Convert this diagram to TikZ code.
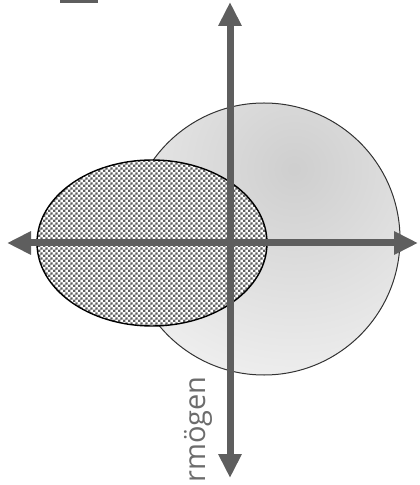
\documentclass[tikz,border=0pt]{standalone}
\usepackage{fontspec}
\setsansfont{Open Sans}
\usetikzlibrary{arrows.meta,shapes.geometric,patterns}

\definecolor{axisgray}{HTML}{5E5E5E}
\pgfdeclarepatternformonly{chequer}{\pgfpointorigin}{\pgfpoint{2.4pt}{2.4pt}}{\pgfpoint{2.4pt}{2.4pt}}{%
  \pgfpathrectangle{\pgfpointorigin}{\pgfpoint{1.2pt}{1.2pt}}%
  \pgfpathrectangle{\pgfpoint{1.2pt}{1.2pt}}{\pgfpoint{1.2pt}{1.2pt}}%
  \pgfusepath{fill}}

\begin{document}
\begin{tikzpicture}[x=0.5pt, y=-0.5pt, font=\sffamily,
  axis/.style={line width=3.5pt, draw=axisgray, -{Triangle[length=12pt, width=11pt]}},
  assetblob/.style={circle, draw=black!80, line width=0.5pt, inner sep=0pt, minimum size=136pt,
    path picture={\shade[inner color=gray!38, outer color=white]
      ([shift={(30,-70)}]path picture bounding box.center) circle (165pt);}},
  debtblob/.style={ellipse, draw=black, line width=0.7pt, inner sep=0pt, minimum width=115pt,
    minimum height=83pt, preaction={fill=white}, pattern=chequer, pattern color=axisgray}]
  \useasboundingbox (0,0) rectangle (419,485);
  \fill[axisgray] (60,0) rectangle (98,3.5);
  \node[assetblob] (assets) at (264,239) {};
  \node[debtblob] (debt) at (152,243) {};
  % axes
  \coordinate (yup) at (230,2);
  \coordinate (ydown) at (230,478);
  \coordinate (xleft) at (7,243);
  \coordinate (xright) at (418,243);
  \coordinate (origin) at (230,243);
  \draw[axis] (origin) -- (yup);
  \draw[axis] (origin) -- (ydown);
  \draw[axis] (origin) -- (xleft);
  \draw[axis] (origin) -- (xright);
  \node[rotate=90, anchor=base east, inner sep=0pt, text=gray!85!black,
    font=\sffamily\fontsize{14.5}{17}\selectfont] (wealth) at (205,376) {rmögen};
\end{tikzpicture}
\end{document}
